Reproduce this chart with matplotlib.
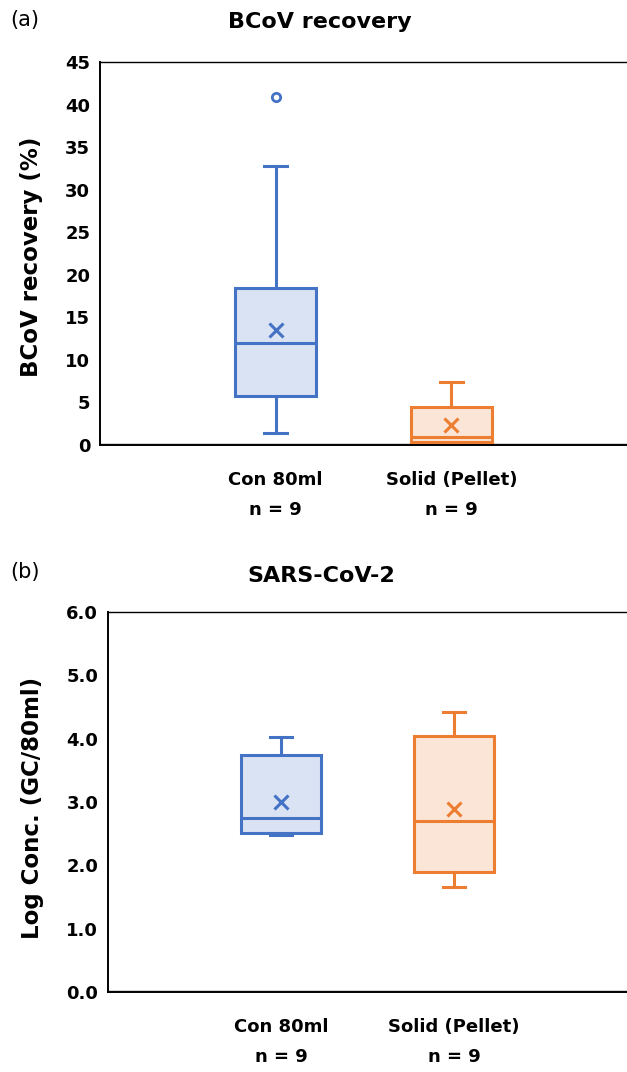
import matplotlib.pyplot as plt

plt.rcParams['font.family'] = ['DejaVu Sans']

groups = ["Con 80ml\nn = 9", "Solid (Pellet)\nn = 9"]
edge_colors = ["#4472C4", "#ED7D31"]
fill_colors = ["#DAE3F3", "#FBE5D6"]

# (a) BCoV recovery (%)
a_whislo = [1.4, 0.3]
a_q1 = [5.8, 0.4]
a_med = [12.0, 0.9]
a_q3 = [18.5, 4.5]
a_whishi = [32.8, 7.4]
a_mean = [13.5, 2.3]
a_fliers = [[40.9], []]

# (b) SARS-CoV-2 log conc.
b_whislo = [2.48, 1.66]
b_q1 = [2.51, 1.90]
b_med = [2.75, 2.70]
b_q3 = [3.74, 4.04]
b_whishi = [4.03, 4.42]
b_mean = [3.00, 2.89]
b_fliers = [[], []]


def make_stats(whislo, q1, med, q3, whishi, mean, fliers):
    stats = []
    for i in range(len(med)):
        stats.append(dict(whislo=whislo[i], q1=q1[i], med=med[i], q3=q3[i],
                          whishi=whishi[i], mean=mean[i], fliers=fliers[i]))
    return stats


def draw_panel(ax, stats, ylim, yticks, fmt):
    for i, st in enumerate(stats):
        c = edge_colors[i]
        ax.bxp([st], positions=[i + 1], widths=0.46, patch_artist=True,
               showmeans=True, showfliers=True,
               boxprops=dict(facecolor=fill_colors[i], edgecolor=c, linewidth=2.2),
               medianprops=dict(color=c, linewidth=2.2),
               whiskerprops=dict(color=c, linewidth=2.2),
               capprops=dict(color=c, linewidth=2.2),
               capwidths=0.13,
               meanprops=dict(marker='x', markeredgecolor=c, markersize=10,
                              markeredgewidth=2.2),
               flierprops=dict(marker='o', markerfacecolor='white',
                               markeredgecolor=c, markersize=6,
                               markeredgewidth=2))
    ax.set_xlim(0, 3)
    ax.set_ylim(*ylim)
    ax.set_yticks(yticks)
    ax.set_yticklabels([fmt.format(v) for v in yticks], fontweight='bold',
                       fontsize=13)
    ax.set_xticks([1, 2])
    ax.set_xticklabels(groups, fontweight='bold', fontsize=13, linespacing=1.85)
    ax.tick_params(axis='both', length=0)
    ax.tick_params(axis='x', pad=19)
    ax.tick_params(axis='y', pad=7)
    ax.spines['right'].set_visible(False)
    ax.spines['left'].set_linewidth(1.4)
    ax.spines['top'].set_linewidth(1.0)
    ax.spines['bottom'].set_linewidth(1.4)
    ax.axhline(ylim[0], color='#d0d0d0', lw=3.5, zorder=0.5)
    return ax


fig = plt.figure(figsize=(6.27, 10.72), dpi=100)

ax1 = fig.add_axes([0.1595, 0.5849, 0.8405, 0.3573])
draw_panel(ax1, make_stats(a_whislo, a_q1, a_med, a_q3, a_whishi, a_mean, a_fliers),
           (0, 45), list(range(0, 46, 5)), "{:d}")
ax2 = fig.add_axes([0.1722, 0.0746, 0.8278, 0.3545])
draw_panel(ax2, make_stats(b_whislo, b_q1, b_med, b_q3, b_whishi, b_mean, b_fliers),
           (0, 6), [0, 1, 2, 3, 4, 5, 6], "{:.1f}")

fig.text(32 / 627, 1 - 257 / 1072, "BCoV recovery (%)", rotation=90,
         ha='center', va='center', fontweight='bold', fontsize=16.5)
fig.text(33 / 627, 1 - 808 / 1072, "Log Conc. (GC/80ml)", rotation=90,
         ha='center', va='center', fontweight='bold', fontsize=16.5)

fig.text(320 / 627, 1 - 22 / 1072, "BCoV recovery", ha='center', va='center',
         fontweight='bold', fontsize=16)
fig.text(321 / 627, 1 - 576 / 1072, "SARS-CoV-2", ha='center', va='center',
         fontweight='bold', fontsize=16)
fig.text(10 / 627, 1 - 20 / 1072, "(a)", ha='left', va='center', fontsize=15)
fig.text(10 / 627, 1 - 572 / 1072, "(b)", ha='left', va='center', fontsize=15)

fig.savefig("out.png", dpi=100)
